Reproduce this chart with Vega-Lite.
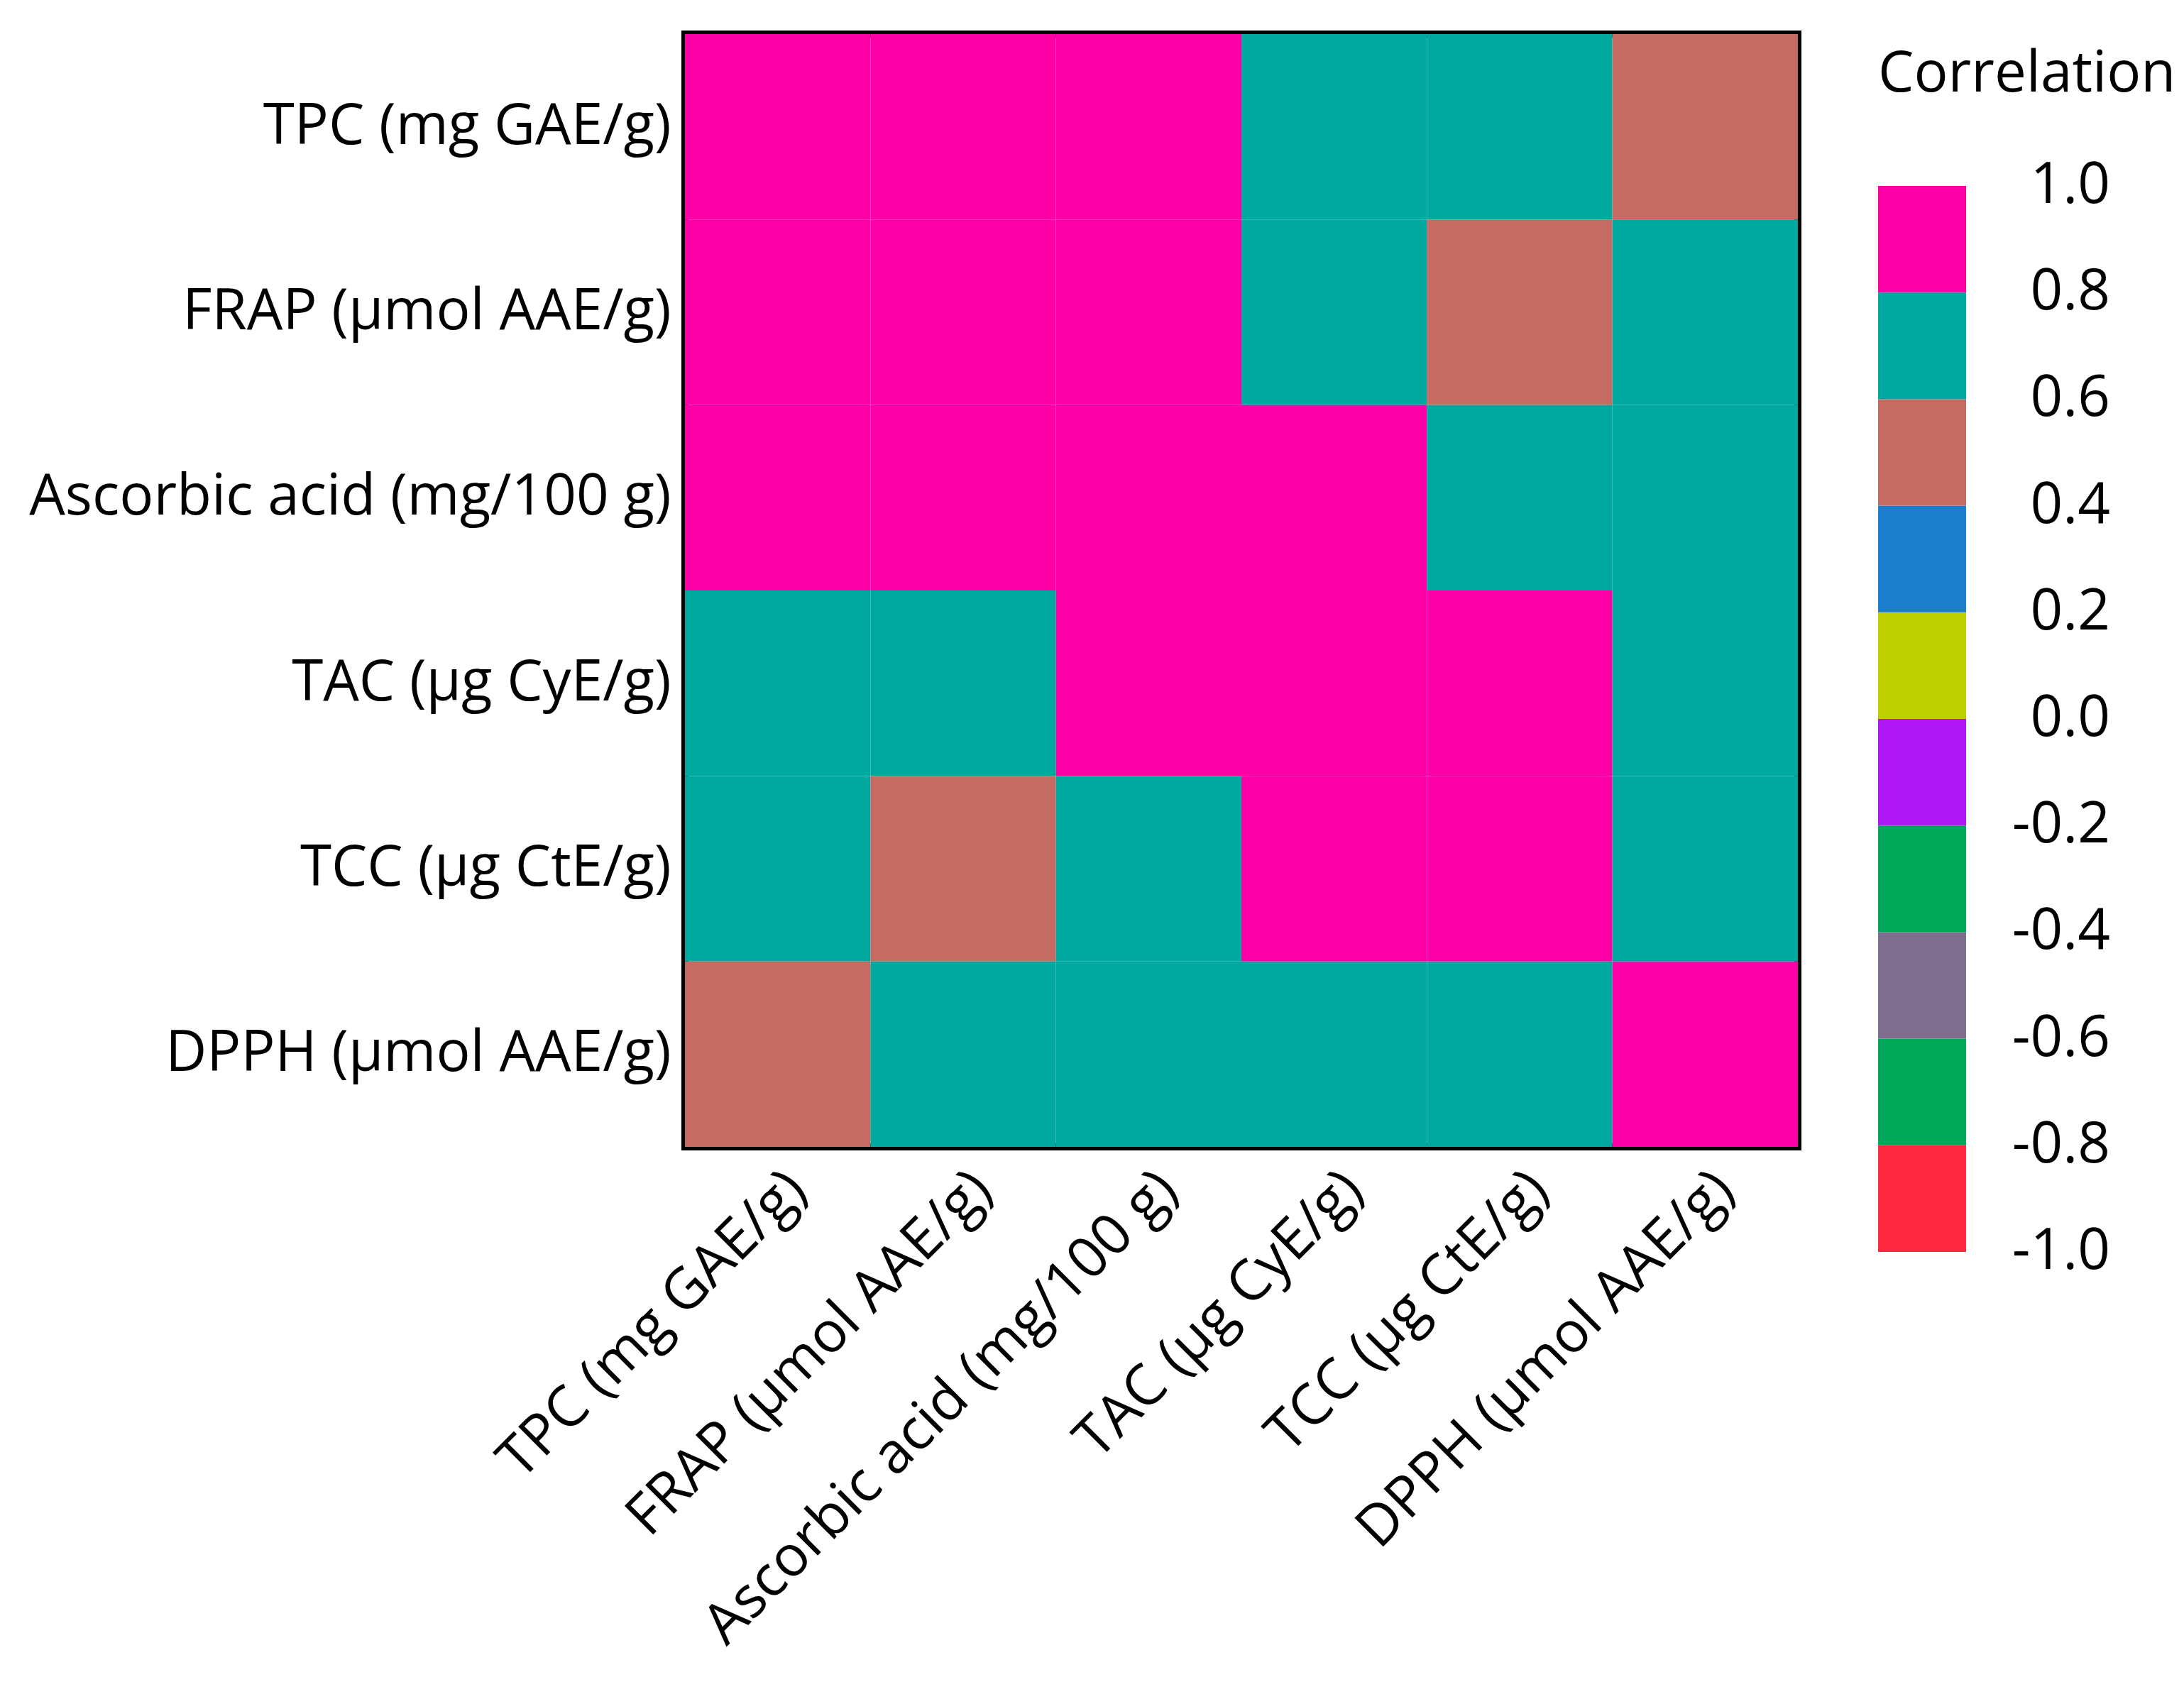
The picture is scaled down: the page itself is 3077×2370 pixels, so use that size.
{
  "$schema": "https://vega.github.io/schema/vega-lite/v6.json",
  "autosize": {"type": "none"},
  "padding": {"left": 965, "top": 48, "right": 544, "bottom": 753},
  "width": 1568,
  "height": 1568,
  "background": "white",
  "config": {
    "font": "Open Sans",
    "view": {"stroke": "black", "strokeWidth": 10},
    "axis": {"labelFont": "Open Sans", "labelFontSize": 80, "labelColor": "black", "ticks": false, "domain": false, "title": null, "labelLimit": 2000}
  },
  "data": {
    "values": [
      {"row": "TPC (mg GAE/g)", "col": "TPC (mg GAE/g)", "r": 1.0},
      {"row": "TPC (mg GAE/g)", "col": "FRAP (µmol AAE/g)", "r": 0.95},
      {"row": "TPC (mg GAE/g)", "col": "Ascorbic acid (mg/100 g)", "r": 0.88},
      {"row": "TPC (mg GAE/g)", "col": "TAC (µg CyE/g)", "r": 0.72},
      {"row": "TPC (mg GAE/g)", "col": "TCC (µg CtE/g)", "r": 0.68},
      {"row": "TPC (mg GAE/g)", "col": "DPPH (µmol AAE/g)", "r": 0.52},
      {"row": "FRAP (µmol AAE/g)", "col": "TPC (mg GAE/g)", "r": 0.95},
      {"row": "FRAP (µmol AAE/g)", "col": "FRAP (µmol AAE/g)", "r": 1.0},
      {"row": "FRAP (µmol AAE/g)", "col": "Ascorbic acid (mg/100 g)", "r": 0.91},
      {"row": "FRAP (µmol AAE/g)", "col": "TAC (µg CyE/g)", "r": 0.70},
      {"row": "FRAP (µmol AAE/g)", "col": "TCC (µg CtE/g)", "r": 0.55},
      {"row": "FRAP (µmol AAE/g)", "col": "DPPH (µmol AAE/g)", "r": 0.66},
      {"row": "Ascorbic acid (mg/100 g)", "col": "TPC (mg GAE/g)", "r": 0.88},
      {"row": "Ascorbic acid (mg/100 g)", "col": "FRAP (µmol AAE/g)", "r": 0.91},
      {"row": "Ascorbic acid (mg/100 g)", "col": "Ascorbic acid (mg/100 g)", "r": 1.0},
      {"row": "Ascorbic acid (mg/100 g)", "col": "TAC (µg CyE/g)", "r": 0.84},
      {"row": "Ascorbic acid (mg/100 g)", "col": "TCC (µg CtE/g)", "r": 0.74},
      {"row": "Ascorbic acid (mg/100 g)", "col": "DPPH (µmol AAE/g)", "r": 0.69},
      {"row": "TAC (µg CyE/g)", "col": "TPC (mg GAE/g)", "r": 0.72},
      {"row": "TAC (µg CyE/g)", "col": "FRAP (µmol AAE/g)", "r": 0.70},
      {"row": "TAC (µg CyE/g)", "col": "Ascorbic acid (mg/100 g)", "r": 0.84},
      {"row": "TAC (µg CyE/g)", "col": "TAC (µg CyE/g)", "r": 1.0},
      {"row": "TAC (µg CyE/g)", "col": "TCC (µg CtE/g)", "r": 0.89},
      {"row": "TAC (µg CyE/g)", "col": "DPPH (µmol AAE/g)", "r": 0.71},
      {"row": "TCC (µg CtE/g)", "col": "TPC (mg GAE/g)", "r": 0.68},
      {"row": "TCC (µg CtE/g)", "col": "FRAP (µmol AAE/g)", "r": 0.55},
      {"row": "TCC (µg CtE/g)", "col": "Ascorbic acid (mg/100 g)", "r": 0.74},
      {"row": "TCC (µg CtE/g)", "col": "TAC (µg CyE/g)", "r": 0.89},
      {"row": "TCC (µg CtE/g)", "col": "TCC (µg CtE/g)", "r": 1.0},
      {"row": "TCC (µg CtE/g)", "col": "DPPH (µmol AAE/g)", "r": 0.67},
      {"row": "DPPH (µmol AAE/g)", "col": "TPC (mg GAE/g)", "r": 0.52},
      {"row": "DPPH (µmol AAE/g)", "col": "FRAP (µmol AAE/g)", "r": 0.66},
      {"row": "DPPH (µmol AAE/g)", "col": "Ascorbic acid (mg/100 g)", "r": 0.69},
      {"row": "DPPH (µmol AAE/g)", "col": "TAC (µg CyE/g)", "r": 0.71},
      {"row": "DPPH (µmol AAE/g)", "col": "TCC (µg CtE/g)", "r": 0.67},
      {"row": "DPPH (µmol AAE/g)", "col": "DPPH (µmol AAE/g)", "r": 1.0}
    ]
  },
  "mark": {"type": "rect"},
  "encoding": {
    "x": {
      "field": "col", "type": "nominal",
      "sort": ["TPC (mg GAE/g)", "FRAP (µmol AAE/g)", "Ascorbic acid (mg/100 g)", "TAC (µg CyE/g)", "TCC (µg CtE/g)", "DPPH (µmol AAE/g)"],
      "scale": {"paddingInner": 0, "paddingOuter": 0},
      "axis": {"labelAngle": -45, "labelPadding": 20}
    },
    "y": {
      "field": "row", "type": "nominal",
      "sort": ["TPC (mg GAE/g)", "FRAP (µmol AAE/g)", "Ascorbic acid (mg/100 g)", "TAC (µg CyE/g)", "TCC (µg CtE/g)", "DPPH (µmol AAE/g)"],
      "scale": {"paddingInner": 0, "paddingOuter": 0},
      "axis": {"labelPadding": 20}
    },
    "color": {
      "field": "r", "type": "quantitative", "title": "Correlation",
      "scale": {"type": "quantize", "domain": [-1, 1], "nice": false,
        "range": ["#FF2841", "#00A85A", "#806E90", "#00A85A", "#B019F5", "#BFD000", "#1A7ECC", "#C66B62", "#00A9A0", "#FF00A8"]},
      "legend": {
        "type": "gradient",
        "orient": "none", "legendX": 1681, "legendY": 18, "direction": "vertical",
        "gradientLength": 1502, "gradientThickness": 124, "gradientStrokeWidth": 0,
        "values": [-1, -0.8, -0.6, -0.4, -0.2, 0, 0.2, 0.4, 0.6, 0.8, 1],
        "labelFontSize": 80, "labelColor": "black", "labelAlign": "right", "labelOffset": 203, "labelOverlap": false,
        "titleFontSize": 80, "titleFontWeight": "normal", "titleColor": "black", "titlePadding": 116, "titleLimit": 2000,
        "labelExpr": "replace(format(datum.value, '.1f'), '−', '-')",
        "encode": {"labels": {"update": {"align": {"value": "right"}, "baseline": {"value": "middle"}}}}
      }
    }
  }
}
